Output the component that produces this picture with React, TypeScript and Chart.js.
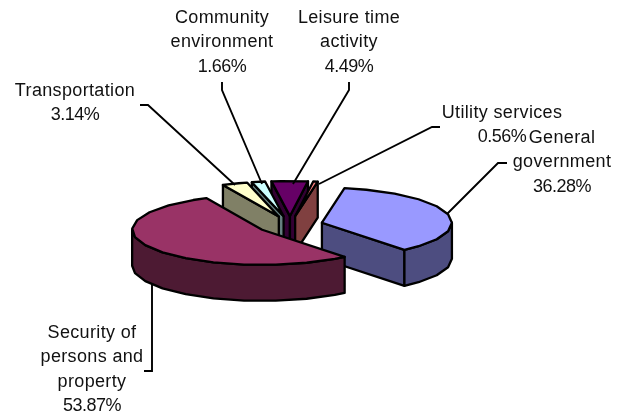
import React, { useEffect, useRef } from "react";
import { Chart, registerables } from "chart.js";

Chart.register(...registerables);

const categories = [
  "General government",
  "Security of persons and property",
  "Transportation",
  "Community environment",
  "Leisure time activity",
  "Utility services",
];
const values = [36.28, 53.87, 3.14, 1.66, 4.49, 0.56];
const labelLines = [
  ["General", "government"],
  ["Security of", "persons and", "property"],
  ["Transportation"],
  ["Community", "environment"],
  ["Leisure time", "activity"],
  ["Utility services"],
];
const topColors = ["#9999FF", "#993366", "#FFFFCC", "#CCFFFF", "#660066", "#FF8080"];
const sideColors = ["#4D4D80", "#4D1A33", "#808066", "#668080", "#330033", "#804040"];

const FIRST_ANGLE = 10;
const SQUASH = 0.27;
const DEPTH = 36;
const FONT = '18px "Liberation Sans", Arial, sans-serif';
const LINE_HEIGHT = 24.3;

// label block: centre x, first line middle y
const labelPos: [number, number][] = [
  [562, 138],
  [92, 333],
  [75, 91],
  [222, 18],
  [349, 18],
  [502, 113],
];
const leaders: [number, number][][] = [
  [[507, 163], [498, 163], [447, 214]],
  [[152, 283], [152, 371], [144, 371]],
  [[140, 105], [148, 105], [235, 185]],
  [[222, 82], [222, 90], [262, 184]],
  [[349, 82], [349, 90], [293, 184]],
  [[440, 127], [432, 127], [319, 184]],
];
const drawOrder = [4, 5, 3, 2, 0, 1];

const STEP = (14 * Math.PI) / 180;

function rimAngles(a0: number, a1: number) {
  const out = [a0];
  let k = Math.ceil(a0 / STEP + 1e-6);
  while (k * STEP < a1 - 1e-6) {
    out.push(k * STEP);
    k++;
  }
  out.push(a1);
  return out;
}

const pie3d = {
  id: "pie3d",
  beforeDatasetDraw(chart: any, args: any) {
    const ctx = chart.ctx as CanvasRenderingContext2D;
    const arcs = args.meta.data;
    ctx.save();
    ctx.lineWidth = 2.3;
    ctx.lineJoin = "round";
    ctx.strokeStyle = "#000";
    for (const i of drawOrder) {
      const arc = arcs[i];
      const { x, y, startAngle: s, endAngle: e, outerRadius: r } = arc.getProps(
        ["x", "y", "startAngle", "endAngle", "outerRadius"],
        true
      );
      const mid = (s + e) / 2;
      const off = arc.options.offset;
      const cx = x + off * Math.cos(mid);
      const cy = y + off * Math.sin(mid) * SQUASH;
      const px = (a: number) => cx + r * Math.cos(a);
      const py = (a: number) => cy + r * Math.sin(a) * SQUASH;

      const face = (a: number) => {
        ctx.beginPath();
        ctx.moveTo(cx, cy);
        ctx.lineTo(px(a), py(a));
        ctx.lineTo(px(a), py(a) + DEPTH);
        ctx.lineTo(cx, cy + DEPTH);
        ctx.closePath();
        ctx.fillStyle = sideColors[i];
        ctx.fill();
        ctx.stroke();
      };
      if (Math.sin(s - Math.PI / 2) > 0) face(s);
      if (Math.sin(e + Math.PI / 2) > 0) face(e);

      const w0 = Math.max(s, 0);
      const w1 = Math.min(e, Math.PI);
      if (w1 > w0) {
        const pts = rimAngles(w0, w1);
        ctx.beginPath();
        pts.forEach((a, n) => (n ? ctx.lineTo(px(a), py(a)) : ctx.moveTo(px(a), py(a))));
        [...pts].reverse().forEach((a) => ctx.lineTo(px(a), py(a) + DEPTH));
        ctx.closePath();
        ctx.fillStyle = sideColors[i];
        ctx.fill();
        ctx.stroke();
      }

      ctx.beginPath();
      ctx.moveTo(cx, cy);
      rimAngles(s, e).forEach((a) => ctx.lineTo(px(a), py(a)));
      ctx.closePath();
      ctx.fillStyle = topColors[i];
      ctx.fill();
      ctx.stroke();
    }
    ctx.restore();
    return false;
  },
  afterDatasetsDraw(chart: any) {
    const ctx = chart.ctx as CanvasRenderingContext2D;
    ctx.save();
    ctx.strokeStyle = "#000";
    ctx.lineWidth = 1.9;
    leaders.forEach((pts) => {
      ctx.beginPath();
      pts.forEach(([x, y], n) => (n ? ctx.lineTo(x, y) : ctx.moveTo(x, y)));
      ctx.stroke();
    });
    ctx.font = FONT;
    ctx.fillStyle = "#111";
    ctx.textAlign = "center";
    ctx.textBaseline = "middle";
    values.forEach((v, i) => {
      const [lx, ly] = labelPos[i];
      const words = labelLines[i];
      (ctx as any).letterSpacing = "0.35px";
      words.forEach((t, n) => ctx.fillText(t, lx, ly + n * LINE_HEIGHT));
      (ctx as any).letterSpacing = "-0.5px";
      ctx.fillText(v.toFixed(2) + "%", lx, ly + words.length * LINE_HEIGHT);
    });
    ctx.restore();
  },
};

export default function App() {
  const ref = useRef<HTMLCanvasElement>(null);
  useEffect(() => {
    document.body.style.margin = "0";
    document.body.style.background = "#fff";
    const chart = new Chart(ref.current!, {
      type: "pie",
      data: {
        labels: categories,
        datasets: [
          {
            data: values,
            backgroundColor: topColors,
            radius: 130,
            offset: 33,
            hoverOffset: 0,
            borderWidth: 0,
          } as any,
        ],
      },
      options: {
        responsive: false,
        animation: false,
        events: [],
        rotation: FIRST_ANGLE,
        layout: { padding: { left: 0, right: 43, top: 35, bottom: 0 } },
        plugins: { legend: { display: false }, tooltip: { enabled: false } },
      },
      plugins: [pie3d],
    });
    return () => chart.destroy();
  }, []);
  return <canvas ref={ref} width={623} height={415} style={{ display: "block" }} />;
}
